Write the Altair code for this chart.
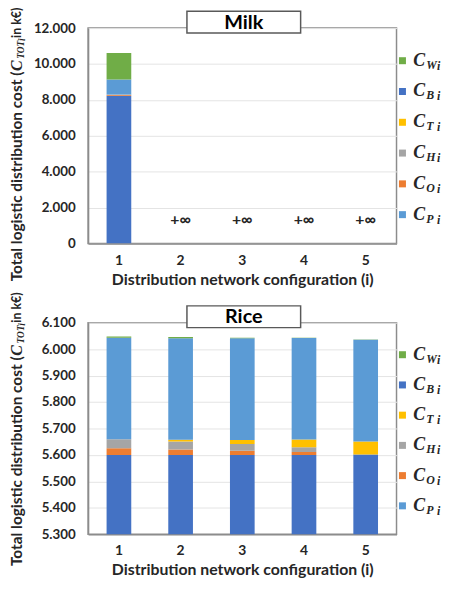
import altair as alt
import pandas as pd

# ---------------- data ----------------
configs = [1, 2, 3, 4, 5]
stack_order = ["CB", "CO", "CH", "CT", "CP", "CW"]      # bottom -> top
legend_order = ["CW", "CB", "CT", "CH", "CO", "CP"]
sub_letters = ["W", "B", "T", "H", "O", "P"]           # in legend_order
color_range = ["#4472C4", "#ED7D31", "#A5A5A5", "#FFC000", "#5B9BD5", "#70AD47"]  # stack_order

# Milk (configurations 2-5 are infeasible: +inf)
milk_CB = [8230, None, None, None, None]
milk_CO = [50, None, None, None, None]
milk_CH = [20, None, None, None, None]
milk_CT = [0, None, None, None, None]
milk_CP = [840, None, None, None, None]
milk_CW = [1470, None, None, None, None]
milk_inf_configs = [2, 3, 4, 5]
milk_inf_labels = ["+∞", "+∞", "+∞", "+∞"]
milk_inf_y = [1300, 1300, 1300, 1300]
milk_ticks = [0, 2000, 4000, 6000, 8000, 10000, 12000]

# Rice
rice_CB = [5600, 5600, 5600, 5600, 5602]
rice_CO = [25, 20, 16, 11, 0]
rice_CH = [34, 31, 25, 18, 0]
rice_CT = [0, 6, 15, 29, 49]
rice_CP = [384, 384, 385, 384, 384]
rice_CW = [5, 5, 2, 1, 1]
rice_ticks = [5300, 5400, 5500, 5600, 5700, 5800, 5900, 6000, 6100]

FONT = "Lato"
MATH = "Liberation Serif"
GRAY = "#8c8c8c"
TXT = "#262626"
YT = 15.6  # y-title font size


def long_df(series):
    rows = []
    for comp, vals in zip(stack_order, series):
        for c, v in zip(configs, vals):
            if v is not None:
                rows.append({"config": c, "comp": comp, "value": v,
                             "ord": stack_order.index(comp)})
    return pd.DataFrame(rows)


legend_df = pd.DataFrame({"comp": legend_order, "sub": sub_letters,
                          "main": ["C"] * 6, "idx": ["i"] * 6})
one = pd.DataFrame({"k": [0]})


def panel(title, df, ticks, height, anchor, leg_pad, inf_df=None):
    xsc = alt.Scale(domain=configs, paddingInner=0.6, paddingOuter=0.3)
    xax = alt.Axis(labelAngle=0, ticks=False, labelFont=FONT,
                   labelFontWeight="bold", labelFontSize=14,
                   labelColor=TXT, labelPadding=10,
                   domainColor=GRAY, domainWidth=1.5,
                   title="Distribution network configuration (i)",
                   titleFont=FONT, titleFontSize=16,
                   titleFontWeight="bold", titleColor=TXT,
                   titlePadding=4)
    ysc = alt.Scale(domain=[ticks[0], ticks[-1]], zero=False, nice=False)
    yax = alt.Axis(values=ticks, ticks=False, labelOverlap=False,
                   labelExpr="replace(format(datum.value, ','), ',', '.')",
                   labelFont=FONT, labelFontWeight="bold",
                   labelFontSize=13.5, labelColor=TXT,
                   labelPadding=13, domainColor=GRAY,
                   domainWidth=1.5, grid=True, gridColor="#e4e4e4",
                   title=None)
    bars = alt.Chart(df).mark_bar(clip=True).encode(
        x=alt.X("config:O", scale=xsc, axis=xax),
        y=alt.Y("value:Q", stack="zero", scale=ysc, axis=yax),
        color=alt.Color("comp:N", scale=alt.Scale(domain=stack_order, range=color_range),
                        legend=None),
        order=alt.Order("ord:Q", sort="ascending"),
    )
    main_layers = [bars]
    if inf_df is not None:
        main_layers.append(
            alt.Chart(inf_df).mark_text(font=FONT, fontWeight="bold", fontSize=16,
                                        color=TXT).encode(
                x=alt.X("config:O", scale=xsc, axis=xax),
                y=alt.Y("y:Q", scale=ysc, axis=yax),
                text="label:N"))
    main = alt.layer(*main_layers)

    lsc = alt.Scale(type="point", domain=legend_order, padding=leg_pad, align=0.53)
    ly = alt.Y("comp:N", scale=lsc, axis=None)
    sq = alt.Chart(legend_df).mark_square(size=50, opacity=1).encode(
        x=alt.value(318), y=ly,
        color=alt.Color("comp:N", scale=alt.Scale(domain=stack_order, range=color_range),
                        legend=None))
    tc = alt.Chart(legend_df).mark_text(align="left", baseline="middle", font=MATH,
                                        fontStyle="italic", fontWeight="bold",
                                        fontSize=18, color=TXT).encode(
        x=alt.value(329), y=ly, text="main:N")
    ts = alt.Chart(legend_df).mark_text(align="left", baseline="middle", font=MATH,
                                        fontStyle="italic", fontWeight="bold",
                                        fontSize=12, dy=4, color=TXT).encode(
        x=alt.value(342), y=ly, text="sub:N")
    ti = alt.Chart(legend_df).mark_text(align="left", baseline="middle", font=MATH,
                                        fontStyle="italic", fontWeight="bold",
                                        fontSize=12, dy=5, color=TXT).encode(
        x=alt.value(353), y=ly, text="idx:N")
    legend = alt.layer(sq, tc, ts, ti)

    box = alt.Chart(one).mark_rect(fill="white", stroke="#595959", strokeWidth=1.5).encode(
        x=alt.value(100), x2=alt.value(215), y=alt.value(-17), y2=alt.value(5))
    box_t = alt.Chart(one).mark_text(font=FONT, fontWeight="bold", fontSize=20,
                                     baseline="middle", color="black").encode(
        x=alt.value(157.5), y=alt.value(-5.5), text=alt.value(title))

    def ypiece(txt, align, font, size, dx, dy=0, style="normal"):
        return alt.Chart(one).mark_text(angle=270, align=align, baseline="middle",
                                        font=font, fontSize=size, fontWeight="bold",
                                        fontStyle=style, dx=dx, dy=dy, color=TXT).encode(
            x=alt.value(-72), y=alt.value(anchor), text=alt.value(txt))

    ytitle = [
        ypiece("Total logistic distribution cost (", "right", FONT, YT, 0),
        ypiece("C", "left", MATH, 16, 0.5, 0, "italic"),
        ypiece("TOT", "left", MATH, 9.5, 13, 4, "italic"),
        ypiece("i", "left", MATH, 9.5, 31, 5, "italic"),
        ypiece("in k€)", "left", FONT, 12.5, 34),
    ]

    return alt.layer(main, legend, box, box_t, *ytitle).resolve_scale(
        y="independent").properties(width=312, height=height)


milk_df = long_df([milk_CB, milk_CO, milk_CH, milk_CT, milk_CP, milk_CW])
rice_df = long_df([rice_CB, rice_CO, rice_CH, rice_CT, rice_CP, rice_CW])
inf_df = pd.DataFrame({"config": milk_inf_configs, "label": milk_inf_labels,
                       "y": milk_inf_y})

milk = panel("Milk", milk_df, milk_ticks, 218, 44, 2.69, inf_df)
rice = panel("Rice", rice_df, rice_ticks, 214, 34, 2.6)

chart = alt.vconcat(milk, rice, spacing=80, bounds="flush").properties(
    padding={"top": -5, "left": 0, "right": 0, "bottom": 0},
    background="white",
).configure_view(stroke=GRAY, strokeWidth=1.5)

chart.save("out.html", embed_options={"renderer": "svg", "actions": False})
